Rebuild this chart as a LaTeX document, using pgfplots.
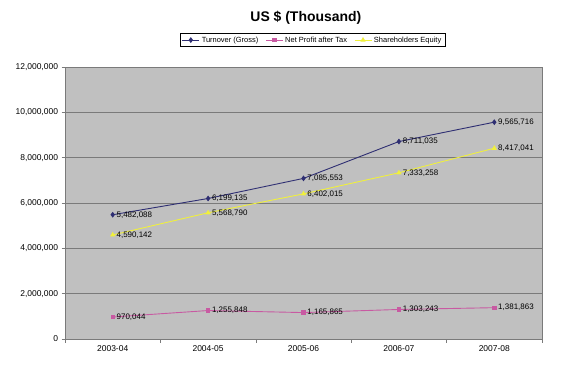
\documentclass[border=0pt]{standalone}
\usepackage{pgfplots}
\pgfplotsset{compat=1.18}
\usepackage{fontspec}
\setmainfont{Liberation Sans}
\definecolor{bgray}{HTML}{C0C0C0}
\definecolor{gline}{HTML}{7A7A7A}
\definecolor{navy}{HTML}{2E2E72}
\definecolor{mag}{HTML}{C85AA2}
\definecolor{yel}{HTML}{F0F03C}
\begin{document}
\begin{tikzpicture}
\useasboundingbox (0,0) rectangle (588bp,382bp);
\begin{axis}[
  at={(65bp,43bp)}, anchor=south west,
  scale only axis, width=477bp, height=272bp,
  xmin=-0.5, xmax=4.5, ymin=0, ymax=12000000,
  xtick={-0.5,0.5,1.5,2.5,3.5,4.5},
  x tick label as interval,
  xticklabels={2003-04,2004-05,2005-06,2006-07,2007-08},
  ytick={0,2000000,4000000,6000000,8000000,10000000,12000000},
  scaled y ticks=false,
  /pgf/number format/assume math mode=true,
  yticklabel style={/pgf/number format/.cd, fixed, precision=0, 1000 sep={,}, assume math mode=true},
  xtick pos=left, ytick pos=left,
  tick align=outside, major tick length=3.5bp,
  tick style={draw=gline, line width=0.6pt},
  ymajorgrids, grid style={draw=gline, line width=0.9pt},
  axis line style={draw=gline, line width=0.9pt},
  axis background/.style={fill=bgray},
  ticklabel style={font=\fontsize{8.5}{10}\selectfont},
  clip=false,
  title={\bfseries US \$ (Thousand)},
  title style={at={(rel axis cs:0.505,1.184)}, anchor=center, font=\fontsize{14}{16}\selectfont\bfseries, yshift=-7bp},
  legend style={at={(0.519,1.099)}, anchor=center, legend columns=3, draw=black, line width=0.4pt, fill=white,
    font=\fontsize{7.5}{9}\selectfont, inner ysep=1pt, inner xsep=2pt,
    /tikz/every even column/.append style={column sep=5pt}},
  nodes near coords, point meta=explicit symbolic,
  every node near coord/.append style={anchor=west, font=\fontsize{8}{9}\selectfont, text=black, inner sep=1pt, xshift=2.5bp},
]
\addplot[color=navy, line width=0.9pt, mark=diamond*, mark size=2.2pt, mark options={fill=navy}]
  table[meta=l] {
  x y l
  0 5482088 5,482,088
  1 6199135 6,199,135
  2 7085553 7,085,553
  3 8711035 8,711,035
  4 9565716 9,565,716
};
\addlegendentry{Turnover (Gross)}
\addplot[color=mag, line width=0.9pt, mark=square*, mark size=1.7pt, mark options={fill=mag}]
  table[meta=l] {
  x y l
  0 970044 970,044
  1 1255848 1,255,848
  2 1165865 1,165,865
  3 1303243 1,303,243
  4 1381863 1,381,863
};
\addlegendentry{Net Profit after Tax}
\addplot[color=yel, line width=0.9pt, mark=triangle*, mark size=2.2pt, mark options={fill=yel}]
  table[meta=l] {
  x y l
  0 4590142 4,590,142
  1 5568790 5,568,790
  2 6402015 6,402,015
  3 7333258 7,333,258
  4 8417041 8,417,041
};
\addlegendentry{Shareholders Equity}
\end{axis}
\end{tikzpicture}
\end{document}
